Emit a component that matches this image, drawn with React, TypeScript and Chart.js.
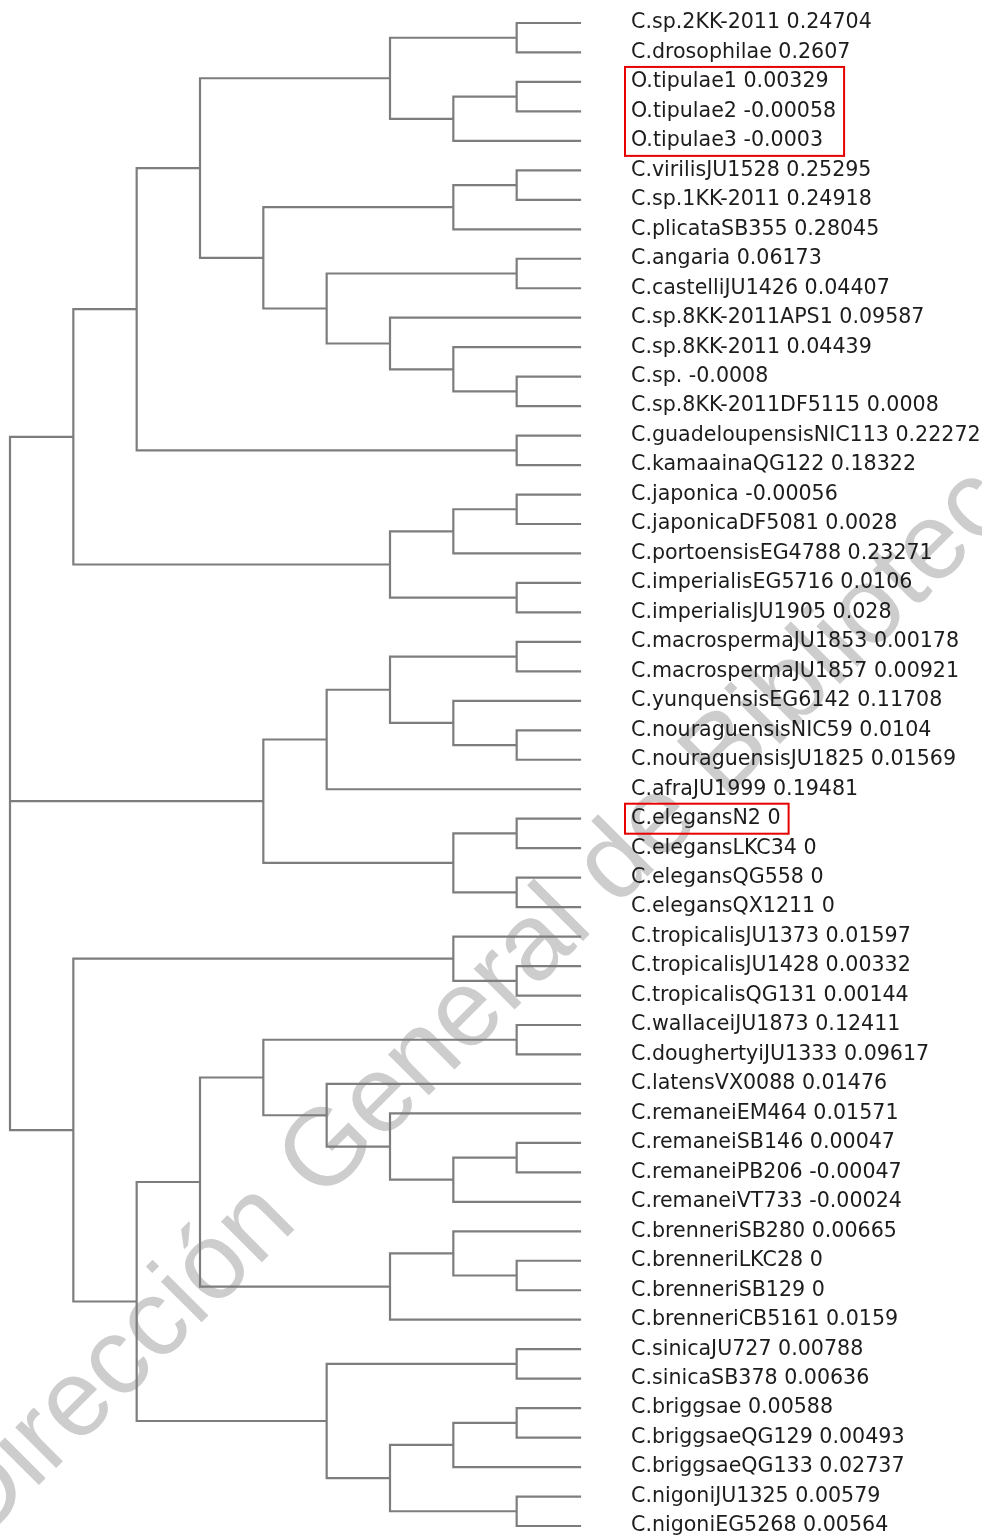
import { useEffect, useRef } from "react";
import { Chart, registerables } from "chart.js";

Chart.register(...registerables);

const leafNames = [
  "C.sp.2KK-2011", "C.drosophilae", "O.tipulae1", "O.tipulae2", "O.tipulae3",
  "C.virilisJU1528", "C.sp.1KK-2011", "C.plicataSB355", "C.angaria", "C.castelliJU1426",
  "C.sp.8KK-2011APS1", "C.sp.8KK-2011", "C.sp.", "C.sp.8KK-2011DF5115", "C.guadeloupensisNIC113",
  "C.kamaainaQG122", "C.japonica", "C.japonicaDF5081", "C.portoensisEG4788", "C.imperialisEG5716",
  "C.imperialisJU1905", "C.macrospermaJU1853", "C.macrospermaJU1857", "C.yunquensisEG6142", "C.nouraguensisNIC59",
  "C.nouraguensisJU1825", "C.afraJU1999", "C.elegansN2", "C.elegansLKC34", "C.elegansQG558",
  "C.elegansQX1211", "C.tropicalisJU1373", "C.tropicalisJU1428", "C.tropicalisQG131", "C.wallaceiJU1873",
  "C.doughertyiJU1333", "C.latensVX0088", "C.remaneiEM464", "C.remaneiSB146", "C.remaneiPB206",
  "C.remaneiVT733", "C.brenneriSB280", "C.brenneriLKC28", "C.brenneriSB129", "C.brenneriCB5161",
  "C.sinicaJU727", "C.sinicaSB378", "C.briggsae", "C.briggsaeQG129", "C.briggsaeQG133",
  "C.nigoniJU1325", "C.nigoniEG5268",
];

const leafValues = [
  0.24704, 0.2607, 0.00329, -0.00058, -0.0003,
  0.25295, 0.24918, 0.28045, 0.06173, 0.04407,
  0.09587, 0.04439, -0.0008, 0.0008, 0.22272,
  0.18322, -0.00056, 0.0028, 0.23271, 0.0106,
  0.028, 0.00178, 0.00921, 0.11708, 0.0104,
  0.01569, 0.19481, 0, 0, 0,
  0, 0.01597, 0.00332, 0.00144, 0.12411,
  0.09617, 0.01476, 0.01571, 0.00047, -0.00047,
  -0.00024, 0.00665, 0, 0, 0.0159,
  0.00788, 0.00636, 0.00588, 0.00493, 0.02737,
  0.00579, 0.00564,
];

// tree topology, leaves referenced by index into leafNames
const treeNewick =
  "((((((0,1),((2,3),4)),(((5,6),7),((8,9),(10,(11,(12,13)))))),(14,15)),(((16,17),18),(19,20)))," +
  "((((21,22),(23,(24,25))),26),((27,28),(29,30)))," +
  "((31,(32,33)),((((34,35),(36,(37,((38,39),40)))),((41,(42,43)),44)),((45,46),(((47,48),49),(50,51))))))";

// highlighted label groups [first leaf, last leaf]
const highlightGroups = [
  [2, 4],
  [27, 27],
];

const watermarkText = "Dirección General de Bibliotecas";

type TreeNode = number | TreeNode[];

function parseNewick(s: string): TreeNode {
  let i = 0;
  const read = (): TreeNode => {
    if (s[i] === "(") {
      i++;
      const kids: TreeNode[] = [];
      for (;;) {
        kids.push(read());
        if (s[i] === ",") { i++; continue; }
        if (s[i] === ")") { i++; break; }
      }
      return kids;
    }
    let num = "";
    while (i < s.length && /[0-9]/.test(s[i])) num += s[i++];
    return parseInt(num, 10);
  };
  return read();
}

function heightOf(n: TreeNode): number {
  if (typeof n === "number") return 0;
  return 1 + Math.max(...n.map(heightOf));
}

function buildSegments(root: TreeNode) {
  const maxH = heightOf(root);
  const pts: { x: number; y: number }[] = [];
  const gap = () => pts.push({ x: NaN, y: NaN });
  const walk = (n: TreeNode): { x: number; y: number } => {
    if (typeof n === "number") return { x: maxH, y: n };
    const kids = n.map(walk);
    const x = maxH - heightOf(n);
    const first = kids[0];
    const last = kids[kids.length - 1];
    pts.push({ x: first.x, y: first.y }, { x, y: first.y }, { x, y: last.y }, { x: last.x, y: last.y });
    gap();
    for (let k = 1; k < kids.length - 1; k++) {
      pts.push({ x, y: kids[k].y }, { x: kids[k].x, y: kids[k].y });
      gap();
    }
    return { x, y: (first.y + last.y) / 2 };
  };
  walk(root);
  return { pts, maxH };
}

const LABEL_FONT = "DejaVu Sans";
const LABEL_SIZE = 20.6;
const LABEL_PAD = 51;

export default function App() {
  const ref = useRef<HTMLCanvasElement | null>(null);

  useEffect(() => {
    document.body.style.margin = "0";
    const canvas = ref.current;
    if (!canvas) return;
    const tree = parseNewick(treeNewick);
    const { pts, maxH } = buildSegments(tree);
    const labels = leafNames.map((n, i) => `${n} ${leafValues[i]}`);

    const watermark = {
      id: "watermark",
      beforeDraw(chart: any) {
        const ctx = chart.ctx as CanvasRenderingContext2D;
        ctx.save();
        ctx.translate(-22, 1546);
        ctx.rotate((-45 * Math.PI) / 180);
        ctx.font = '109px "Liberation Sans", Arial, sans-serif';
        ctx.fillStyle = "#cdcdcd";
        ctx.textBaseline = "alphabetic";
        ctx.fillText(watermarkText, 0, 0);
        ctx.restore();
      },
    };

    const boxes = {
      id: "boxes",
      afterDraw(chart: any) {
        const ctx = chart.ctx as CanvasRenderingContext2D;
        const ys = chart.scales.y;
        const xLabel = chart.chartArea.right + LABEL_PAD;
        ctx.save();
        ctx.font = `${LABEL_SIZE}px "${LABEL_FONT}"`;
        ctx.strokeStyle = "#e60000";
        ctx.lineWidth = 2;
        for (const [a, b] of highlightGroups) {
          let w = 0;
          for (let i = a; i <= b; i++) w = Math.max(w, ctx.measureText(labels[i]).width);
          const x0 = xLabel - 6;
          const x1 = xLabel + w + 8;
          const y0 = ys.getPixelForValue(a) - 15;
          const y1 = ys.getPixelForValue(b) + 15;
          ctx.strokeRect(x0, y0, x1 - x0, y1 - y0);
        }
        ctx.restore();
      },
    };

    const chart = new Chart(canvas, {
      type: "line",
      data: {
        datasets: [
          {
            data: pts,
            borderColor: "#7d7d7d",
            borderWidth: 2.2,
            pointRadius: 0,
            tension: 0,
            spanGaps: false,
            borderJoinStyle: "miter",
            borderCapStyle: "square",
            clip: false as any,
          },
        ],
      },
      options: {
        animation: false,
        responsive: false,
        layout: { padding: { left: 10, top: 23, bottom: 10, right: 0 } },
        plugins: { legend: { display: false }, tooltip: { enabled: false } },
        scales: {
          x: { type: "linear", min: 0, max: maxH, display: false },
          y: {
            type: "linear",
            position: "right",
            reverse: true,
            min: 0,
            max: leafNames.length - 1,
            afterFit(scale: any) {
              scale.width = 402;
              scale.paddingTop = 0;
              scale.paddingBottom = 0;
            },
            grid: { display: false, drawTicks: false },
            border: { display: false },
            ticks: {
              stepSize: 1,
              autoSkip: false,
              padding: LABEL_PAD,
              color: "#1c1c1c",
              font: { family: LABEL_FONT, size: LABEL_SIZE, lineHeight: 1 },
              callback: (v: any) => labels[Number(v)] ?? "",
            },
          },
        },
      },
      plugins: [watermark, boxes],
    });
    return () => chart.destroy();
  }, []);

  return <canvas ref={ref} width={982} height={1536} style={{ display: "block" }} />;
}
